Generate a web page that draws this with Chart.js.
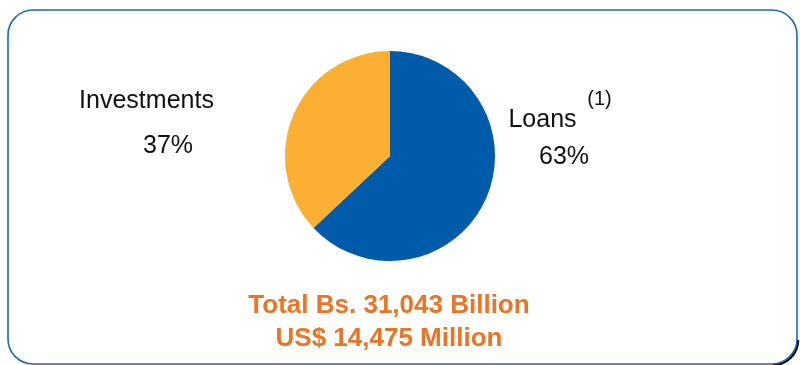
<!DOCTYPE html>
<html>
<head>
<meta charset="utf-8">
<script src="https://cdn.jsdelivr.net/npm/chart.js@4"></script>
<style>
  body { margin: 0; background: #fff; }
  canvas { display: block; }
</style>
</head>
<body>
<canvas id="canvas" width="800" height="365"></canvas>
<script>
// portfolio split
var labels = ['Loans', 'Investments'];
var shares = [63, 37];
var colors = ['#005BAA', '#FBB034'];
var footnotes = ['(1)', ''];
var totals = ['Total Bs. 31,043 Billion', 'US$ 14,475 Million'];

var FONT = '"Liberation Sans", Arial, sans-serif';

// frame + text around the pie
var decor = {
  id: 'decor',
  beforeDraw: function(chart) {
    var ctx = chart.ctx;
    ctx.save();
    // dark shadow only round the bottom right corner
    ctx.beginPath();
    ctx.arc(773, 340, 25, 0, Math.PI / 2);
    ctx.strokeStyle = '#000';
    ctx.lineWidth = 2.5;
    ctx.stroke();
    ctx.beginPath();
    ctx.roundRect(8, 10, 789, 354, 25);
    ctx.strokeStyle = '#1C68B3';
    ctx.lineWidth = 1.6;
    ctx.stroke();
    ctx.restore();
  },
  afterDraw: function(chart) {
    var ctx = chart.ctx;
    ctx.save();
    ctx.fillStyle = '#111';
    ctx.textAlign = 'center';
    ctx.textBaseline = 'alphabetic';
    ctx.font = '25px ' + FONT;
    // Loans on the right
    ctx.fillText(labels[0], 542.5, 127);
    ctx.fillText(shares[0] + '%', 564, 164);
    ctx.font = '20px ' + FONT;
    ctx.fillText(footnotes[0], 599.5, 105);
    // Investments on the left
    ctx.font = '25px ' + FONT;
    ctx.fillText(labels[1], 146.5, 108);
    ctx.fillText(shares[1] + '%', 168, 153);
    // totals
    ctx.fillStyle = '#EC7424';
    ctx.font = 'bold 26px ' + FONT;
    ctx.fillText(totals[0], 389, 313);
    ctx.fillText(totals[1], 389, 346);
    ctx.restore();
  }
};

var ctx = canvas.getContext('2d');
var config = {
  type: 'pie',
  data: {
    labels: labels,
    datasets: [{
      data: shares,
      backgroundColor: colors,
      borderWidth: 0
    }]
  },
  options: {
    responsive: false,
    animation: false,
    layout: { padding: { left: 285, right: 305, top: 51, bottom: 104 } },
    plugins: {
      legend: { display: false },
      tooltip: { enabled: false }
    }
  },
  plugins: [decor]
};
var chart = new Chart(ctx, config);
</script>
</body>
</html>
